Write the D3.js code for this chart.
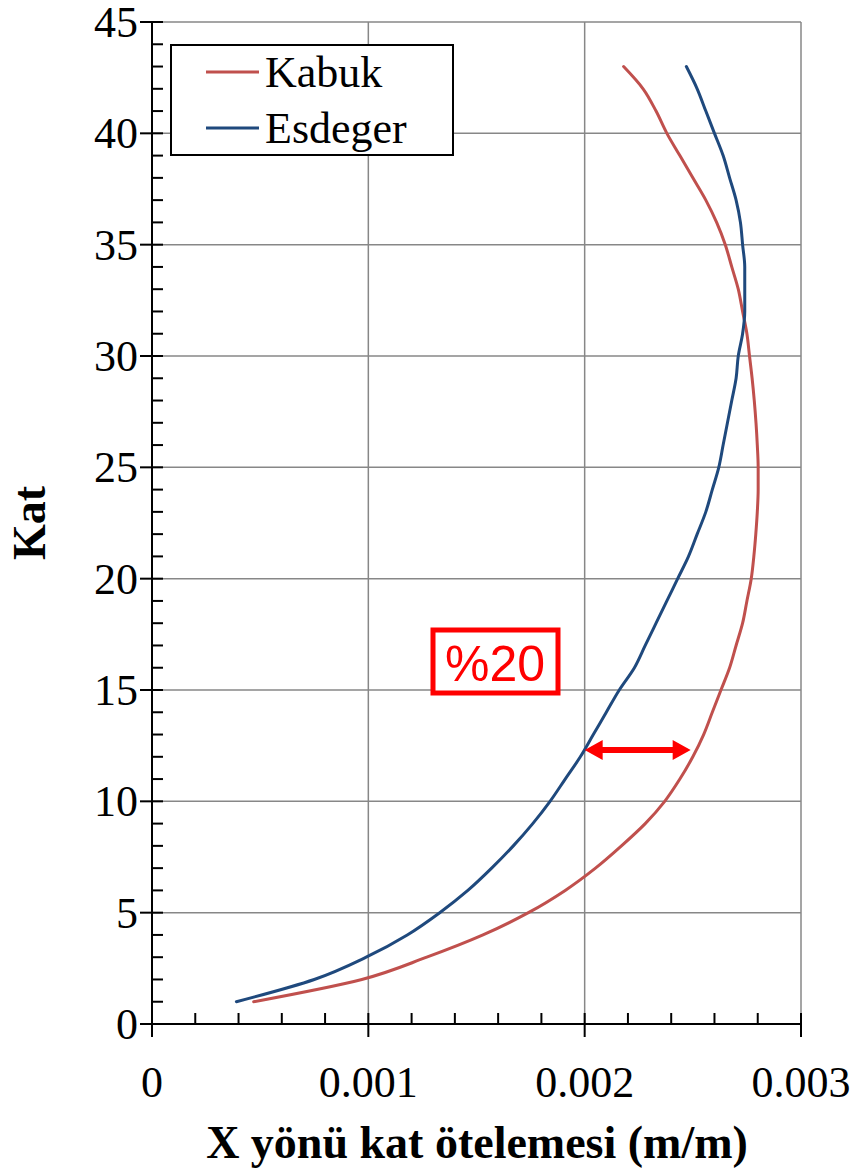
<!DOCTYPE html>
<html>
<head>
<meta charset="utf-8">
<script src="https://cdn.jsdelivr.net/npm/d3@7"></script>
<style>
  body { margin: 0; background: #fff; }
  svg { display: block; }
  .tick-label { font-family: "Liberation Serif", "Times New Roman", serif; font-size: 44px; fill: #000; }
  .axis-title { font-family: "Liberation Serif", "Times New Roman", serif; font-size: 46px; font-weight: bold; fill: #000; }
  .legend-text { font-family: "Liberation Serif", "Times New Roman", serif; font-size: 44px; fill: #000; }
  .note { font-family: "Liberation Sans", Arial, sans-serif; font-size: 50px; fill: #ff0000; }
</style>
</head>
<body>
<div id="chart"></div>
<script>
// floors 1..43
var floors = d3.range(1, 44);

var kabuk = [
  0.00047, 0.00097, 0.00127, 0.00153, 0.00174, 0.00191, 0.00205, 0.00217, 0.00228, 0.00237,
  0.00244, 0.00250, 0.00255, 0.00259, 0.00263, 0.00267, 0.00270, 0.00273, 0.00275, 0.00277,
  0.002782, 0.002791, 0.002798, 0.002802, 0.002802, 0.002798, 0.002792, 0.002784, 0.002774, 0.002762,
  0.00275, 0.00273, 0.00271, 0.00268, 0.00265, 0.00261, 0.00256, 0.00250, 0.00244, 0.00238,
  0.00233, 0.00227, 0.00218
];

var esdeger = [
  0.00039, 0.00075, 0.00099, 0.00118, 0.00133, 0.00146, 0.00157, 0.00167, 0.00176, 0.00184,
  0.00191, 0.00198, 0.00204, 0.00210, 0.00216, 0.00223, 0.00228, 0.00233, 0.00238, 0.00243,
  0.00248, 0.00252, 0.00256, 0.00259, 0.00262, 0.00264, 0.00266, 0.00268, 0.00270, 0.00271,
  0.00273, 0.00274, 0.00274, 0.00274, 0.00273, 0.00272, 0.00270, 0.00267, 0.00264, 0.00260,
  0.00256, 0.00252, 0.00247
];

var seriesNames = ["Kabuk", "Esdeger"];
var xTicks = [0, 0.001, 0.002, 0.003];
var xTickLabels = ["0", "0.001", "0.002", "0.003"];
var yTicks = [0, 5, 10, 15, 20, 25, 30, 35, 40, 45];

// annotation: the %20 arrow between the curves
var noteText = "%20";
var arrowFloor = [12.3];
var arrowRange = [0.002, 0.00249];

var width = 858, height = 1171;
var plotLeft = 152, plotRight = 801, plotTop = 22, plotBottom = 1024;
var colors = ["#C0504D", "#1F497D"];

var x = d3.scaleLinear().domain([0, 0.003]).range([plotLeft, plotRight]);
var y = d3.scaleLinear().domain([0, 45]).range([plotBottom, plotTop]);

var svg = d3.select("#chart").append("svg")
    .attr("width", width)
    .attr("height", height);

// grid
svg.append("g").selectAll("line")
    .data(yTicks.filter(function(d) { return d > 0; }))
    .enter().append("line")
    .attr("x1", plotLeft).attr("x2", plotRight)
    .attr("y1", function(d) { return y(d); })
    .attr("y2", function(d) { return y(d); })
    .attr("stroke", "#878787").attr("stroke-width", 1.5);

svg.append("g").selectAll("line")
    .data(xTicks.filter(function(d) { return d > 0; }))
    .enter().append("line")
    .attr("y1", plotTop).attr("y2", plotBottom)
    .attr("x1", function(d) { return x(d); })
    .attr("x2", function(d) { return x(d); })
    .attr("stroke", "#878787").attr("stroke-width", 1.5);

// minor ticks
var yMinor = d3.range(1, 45).filter(function(d) { return d % 5 != 0; });
svg.append("g").selectAll("line")
    .data(yMinor)
    .enter().append("line")
    .attr("x1", plotLeft).attr("x2", plotLeft + 11)
    .attr("y1", function(d) { return y(d); })
    .attr("y2", function(d) { return y(d); })
    .attr("stroke", "#000").attr("stroke-width", 2);

var xMinor = d3.range(1, 15).map(function(i) { return i * 0.0002; })
    .filter(function(d, i) { return (i + 1) % 5 != 0; });
svg.append("g").selectAll("line")
    .data(xMinor)
    .enter().append("line")
    .attr("y1", plotBottom).attr("y2", plotBottom - 11)
    .attr("x1", function(d) { return x(d); })
    .attr("x2", function(d) { return x(d); })
    .attr("stroke", "#000").attr("stroke-width", 2);

// major ticks (cross the axis)
svg.append("g").selectAll("line")
    .data(yTicks)
    .enter().append("line")
    .attr("x1", plotLeft - 12).attr("x2", plotLeft + 11)
    .attr("y1", function(d) { return y(d); })
    .attr("y2", function(d) { return y(d); })
    .attr("stroke", "#000").attr("stroke-width", 2);

svg.append("g").selectAll("line")
    .data(xTicks)
    .enter().append("line")
    .attr("y1", plotBottom - 11).attr("y2", plotBottom + 13)
    .attr("x1", function(d) { return x(d); })
    .attr("x2", function(d) { return x(d); })
    .attr("stroke", "#000").attr("stroke-width", 2);

// axis lines
svg.append("line")
    .attr("x1", plotLeft).attr("x2", plotLeft).attr("y1", plotTop).attr("y2", plotBottom)
    .attr("stroke", "#000").attr("stroke-width", 2);
svg.append("line")
    .attr("x1", plotLeft).attr("x2", plotRight).attr("y1", plotBottom).attr("y2", plotBottom)
    .attr("stroke", "#000").attr("stroke-width", 2);

// tick labels
svg.append("g").selectAll("text")
    .data(yTicks)
    .enter().append("text")
    .attr("class", "tick-label")
    .attr("x", 138)
    .attr("y", function(d) { return y(d) + 15; })
    .attr("text-anchor", "end")
    .text(function(d) { return d; });

svg.append("g").selectAll("text")
    .data(xTicks)
    .enter().append("text")
    .attr("class", "tick-label")
    .attr("x", function(d) { return x(d); })
    .attr("y", 1097)
    .attr("text-anchor", "middle")
    .text(function(d, i) { return xTickLabels[i]; });

// axis titles
svg.append("text")
    .attr("class", "axis-title")
    .attr("x", 477).attr("y", 1158)
    .attr("text-anchor", "middle")
    .text("X yönü kat ötelemesi (m/m)");

svg.append("text")
    .attr("class", "axis-title")
    .attr("transform", "translate(45,523) rotate(-90)")
    .attr("text-anchor", "middle")
    .text("Kat");

// series
var line = d3.line()
    .x(function(d) { return x(d[0]); })
    .y(function(d) { return y(d[1]); })
    .curve(d3.curveMonotoneY);

[kabuk, esdeger].forEach(function(vals, i) {
  svg.append("path")
      .datum(vals.map(function(v, j) { return [v, floors[j]]; }))
      .attr("fill", "none")
      .attr("stroke", colors[i])
      .attr("stroke-width", 3)
      .attr("stroke-linecap", "round")
      .attr("stroke-linejoin", "round")
      .attr("d", line);
});

// legend
var legend = svg.append("g");
legend.append("rect")
    .attr("x", 171).attr("y", 45).attr("width", 282).attr("height", 110)
    .attr("fill", "#fff").attr("stroke", "#000").attr("stroke-width", 2);
seriesNames.forEach(function(name, i) {
  var ly = 72 + i * 56;
  legend.append("line")
      .attr("x1", 206).attr("x2", 259).attr("y1", ly).attr("y2", ly)
      .attr("stroke", colors[i]).attr("stroke-width", 3);
  legend.append("text")
      .attr("class", "legend-text")
      .attr("x", 265).attr("y", ly + 15)
      .text(name);
});

// %20 note
svg.append("rect")
    .attr("x", 433).attr("y", 630).attr("width", 125).attr("height", 63)
    .attr("fill", "#fff").attr("stroke", "#ff0000").attr("stroke-width", 5);
svg.append("text")
    .attr("class", "note")
    .attr("x", 495).attr("y", 681)
    .attr("text-anchor", "middle")
    .text(noteText);

// double arrow
var ax1 = x(arrowRange[0]), ax2 = x(arrowRange[1]), ay = y(arrowFloor[0]);
var head = 18, hw = 10, sw = 3;
svg.append("path")
    .attr("fill", "#ff0000")
    .attr("d", [
      "M", ax1, ay,
      "L", ax1 + head, ay - hw,
      "L", ax1 + head, ay - sw,
      "L", ax2 - head, ay - sw,
      "L", ax2 - head, ay - hw,
      "L", ax2, ay,
      "L", ax2 - head, ay + hw,
      "L", ax2 - head, ay + sw,
      "L", ax1 + head, ay + sw,
      "L", ax1 + head, ay + hw,
      "Z"
    ].join(" "));
</script>
</body>
</html>
